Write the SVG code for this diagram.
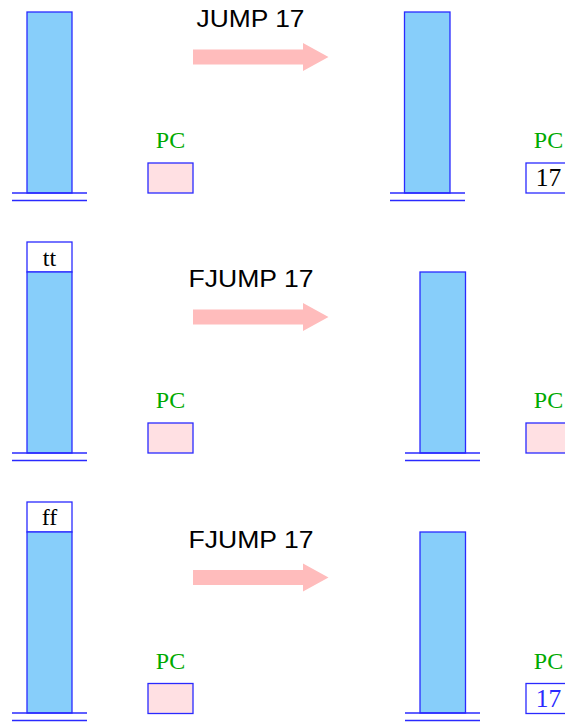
<svg xmlns="http://www.w3.org/2000/svg" width="565" height="722" viewBox="0 0 565 722">
<style>
.stk{fill:#87cefa;stroke:#2a2aff;stroke-width:1.3}
.top{fill:#ffffff;stroke:#2a2aff;stroke-width:1.3}
.base{stroke:#2a2aff;stroke-width:1.3;fill:none}
.pc{fill:#ffe0e3;stroke:#2a2aff;stroke-width:1.3}
.pcw{fill:#ffffff;stroke:#2a2aff;stroke-width:1.3}
.arr{fill:#ffbcbc}
.lbl{font-family:"Liberation Serif","Times New Roman",serif;font-size:24px;text-anchor:middle}
.num{font-size:25.5px}
.green{fill:#00aa00}
.op{font-family:"Liberation Sans",Arial,sans-serif;font-size:24.5px;fill:#000}
</style>
<rect width="565" height="722" fill="#ffffff"/>
<g id="connectors">
<polygon class="arr" points="193,49.5 303,49.5 303,43 328.5,57 303,71 303,64.5 193,64.5"/>
<polygon class="arr" points="193,309.5 303,309.5 303,303 328.5,317 303,331 303,324.5 193,324.5"/>
<polygon class="arr" points="193,570 303,570 303,563.5 328.5,577.5 303,591.5 303,585 193,585"/>
</g>
<g id="labels">
<text class="op" x="196.5" y="27.3" textLength="108" lengthAdjust="spacingAndGlyphs">JUMP 17</text>
<text class="op" x="188.5" y="287.3" textLength="125" lengthAdjust="spacingAndGlyphs">FJUMP 17</text>
<text class="op" x="188.5" y="547.5" textLength="125" lengthAdjust="spacingAndGlyphs">FJUMP 17</text>
</g>
<g id="stack1L">
<rect class="stk" x="27" y="12" width="45" height="181"/>
<line class="base" x1="12" y1="193" x2="87" y2="193"/>
<line class="base" x1="12" y1="200.5" x2="87" y2="200.5"/>
</g>
<g id="pc1L">
<text class="lbl green" x="170.5" y="148">PC</text>
<rect class="pc" x="148" y="163" width="45" height="30"/>
</g>
<g id="stack1R">
<rect class="stk" x="404.5" y="12" width="45.5" height="181"/>
<line class="base" x1="390" y1="193" x2="465" y2="193"/>
<line class="base" x1="390" y1="200.5" x2="465" y2="200.5"/>
</g>
<g id="pc1R">
<text class="lbl green" x="548.5" y="148">PC</text>
<rect class="pcw" x="526" y="163" width="45" height="30"/>
<text class="lbl num" x="548.5" y="186" fill="#000">17</text>
</g>
<g id="stack2L">
<rect class="top" x="27" y="242" width="45" height="30"/>
<text class="lbl" x="49.5" y="265.7" fill="#000">tt</text>
<rect class="stk" x="27" y="272" width="45" height="181"/>
<line class="base" x1="12" y1="453" x2="87" y2="453"/>
<line class="base" x1="12" y1="460.5" x2="87" y2="460.5"/>
</g>
<g id="pc2L">
<text class="lbl green" x="170.5" y="408">PC</text>
<rect class="pc" x="148" y="423" width="45" height="30"/>
</g>
<g id="stack2R">
<rect class="stk" x="420" y="272" width="45.5" height="181"/>
<line class="base" x1="405" y1="453" x2="480" y2="453"/>
<line class="base" x1="405" y1="460.5" x2="480" y2="460.5"/>
</g>
<g id="pc2R">
<text class="lbl green" x="548.5" y="408">PC</text>
<rect class="pc" x="526" y="423" width="45" height="30"/>
</g>
<g id="stack3L">
<rect class="top" x="27" y="502" width="45" height="30"/>
<text class="lbl" x="49.5" y="524.5" fill="#000">ff</text>
<rect class="stk" x="27" y="532" width="45" height="181"/>
<line class="base" x1="12" y1="713" x2="87" y2="713"/>
<line class="base" x1="12" y1="720.5" x2="87" y2="720.5"/>
</g>
<g id="pc3L">
<text class="lbl green" x="170.5" y="668.5">PC</text>
<rect class="pc" x="148" y="683.5" width="45" height="30"/>
</g>
<g id="stack3R">
<rect class="stk" x="420" y="532" width="45.5" height="181"/>
<line class="base" x1="405" y1="713" x2="480" y2="713"/>
<line class="base" x1="405" y1="720.5" x2="480" y2="720.5"/>
</g>
<g id="pc3R">
<text class="lbl green" x="548.5" y="668.5">PC</text>
<rect class="pcw" x="526" y="683.5" width="45" height="30"/>
<text class="lbl num" x="548.5" y="706.5" fill="#2a2aff">17</text>
</g>
</svg>
